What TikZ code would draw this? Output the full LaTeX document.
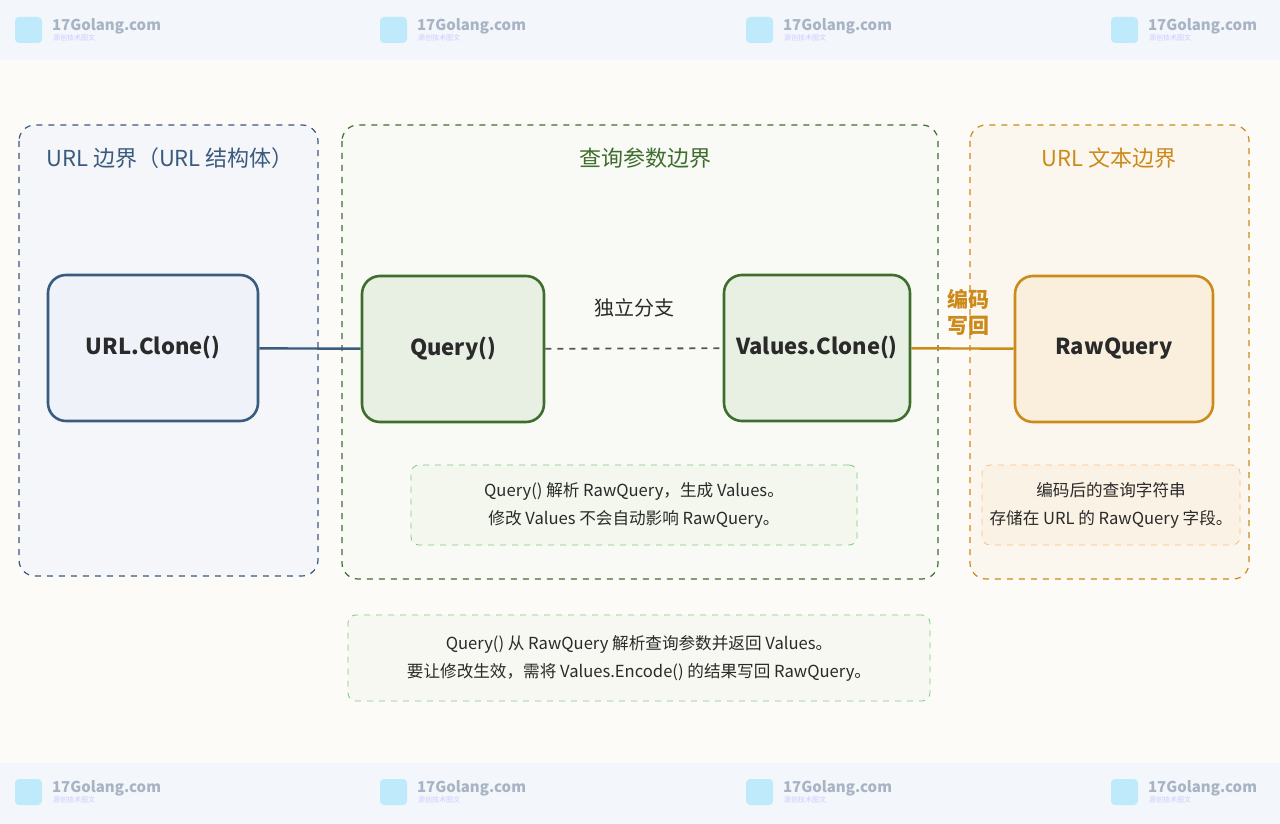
\documentclass[tikz,border=0pt]{standalone}
\usepackage{fontspec}
\setmainfont{Noto Sans CJK SC}
\usetikzlibrary{positioning}
\definecolor{bluec}{HTML}{3A5A7E}
\definecolor{greenc}{HTML}{3E6E2E}
\definecolor{orangec}{HTML}{CC8A1A}
\definecolor{textc}{HTML}{2A2A2A}
\definecolor{wmc}{HTML}{A8B4C4}
\definecolor{bgc}{HTML}{FCFBF7}
\definecolor{bandc}{HTML}{F3F6FA}
\tikzset{
  zone/.style={draw=#1,dashed,rounded corners=8pt,line width=0.6pt},
  ztitle/.style={text=#1,font=\fontsize{11}{13}\selectfont},
  box/.style 2 args={draw=#1,rounded corners=9pt,line width=1.3pt,minimum width=#2,minimum height=73pt,
    text=textc,font=\fontsize{11}{13}\selectfont\bfseries},
  note/.style={draw=#1,dashed,rounded corners=4pt,line width=0.4pt,align=center,
    text=textc,font=\fontsize{8.3}{14}\selectfont},
  wm/.style={text=wmc,font=\fontsize{7.5}{8}\selectfont\bfseries,anchor=west},
}
\begin{document}
\begin{tikzpicture}[x=0.5pt,y=-0.5pt]
\useasboundingbox (0,0) rectangle (1280,824);
\fill[bgc] (0,0) rectangle (1280,824);
%watermark bands
\fill[bandc] (0,0) rectangle (1280,60);
\fill[bandc] (0,763) rectangle (1280,824);
\foreach \x in {15,380,746,1111}{
  \foreach \y in {30,792}{
    \fill[cyan!25,rounded corners=2pt] (\x,\y-13) rectangle ++(27,26);
    \node[wm] at (\x+30,\y-4) {17Golang.com};
    \node[text=blue!20,font=\fontsize{3.5}{4}\selectfont,anchor=west] at (\x+31,\y+8) {源创技术图文};
  }
}
%zones
\draw[zone=bluec,fill={rgb,255:red,244;green,246;blue,249}] (19,125) rectangle (318,576);
\draw[zone=greenc,fill={rgb,255:red,249;green,250;blue,245}] (342,125) rectangle (938,579);
\draw[zone=orangec,fill={rgb,255:red,251;green,247;blue,239}] (970,125) rectangle (1249,579);
\node[ztitle=bluec] (tUrl) at (170,158) {URL 边界（URL 结构体）};
\node[ztitle=greenc] (tQuery) at (645,158) {查询参数边界};
\node[ztitle=orangec] (tText) at (1109,158) {URL 文本边界};
%boxes
\node[box={bluec}{105pt},fill={rgb,255:red,239;green,242;blue,248}] (clone) at (153,348) {URL.Clone()};
\node[box={greenc}{91pt},fill={rgb,255:red,232;green,239;blue,227}] (query) at (453,349) {Query()};
\node[box={greenc}{93pt},fill={rgb,255:red,232;green,239;blue,227}] (vclone) at (817,348) {Values.Clone()};
\node[box={orangec}{99pt},fill={rgb,255:red,250;green,239;blue,221}] (raw) at (1114,349) {RawQuery};
%connectors
\draw[bluec,line width=1.2pt] (clone) -- (query);
\draw[textc!80,dashed,line width=0.9pt] (query) -- node[above=12pt,text=textc,font=\fontsize{10}{12}\selectfont] (branch) {独立分支} (vclone);
\draw[orangec,line width=1.2pt] (vclone) -- (raw);
\node[text=orangec,font=\fontsize{10.5}{13}\selectfont\bfseries,align=center] (enc) at (968,312) {编码\\写回};
%notes
\node[note=green!40!gray!70,fill={rgb,255:red,244;green,247;blue,238},minimum width=223pt,minimum height=40pt] (n1) at (634,505)
  {Query() 解析 RawQuery，生成 Values。\\修改 Values 不会自动影响 RawQuery。};
\node[note=orange!50,fill={rgb,255:red,250;green,242;blue,228},minimum width=129pt,minimum height=40pt] (n2) at (1111,505)
  {编码后的查询字符串\\存储在 URL 的 RawQuery 字段。};
\node[note=green!40!gray!70,fill={rgb,255:red,246;green,248;blue,241},minimum width=291pt,minimum height=43pt] (n3) at (639,658)
  {Query() 从 RawQuery 解析查询参数并返回 Values。\\要让修改生效，需将 Values.Encode() 的结果写回 RawQuery。};
\end{tikzpicture}
\end{document}
